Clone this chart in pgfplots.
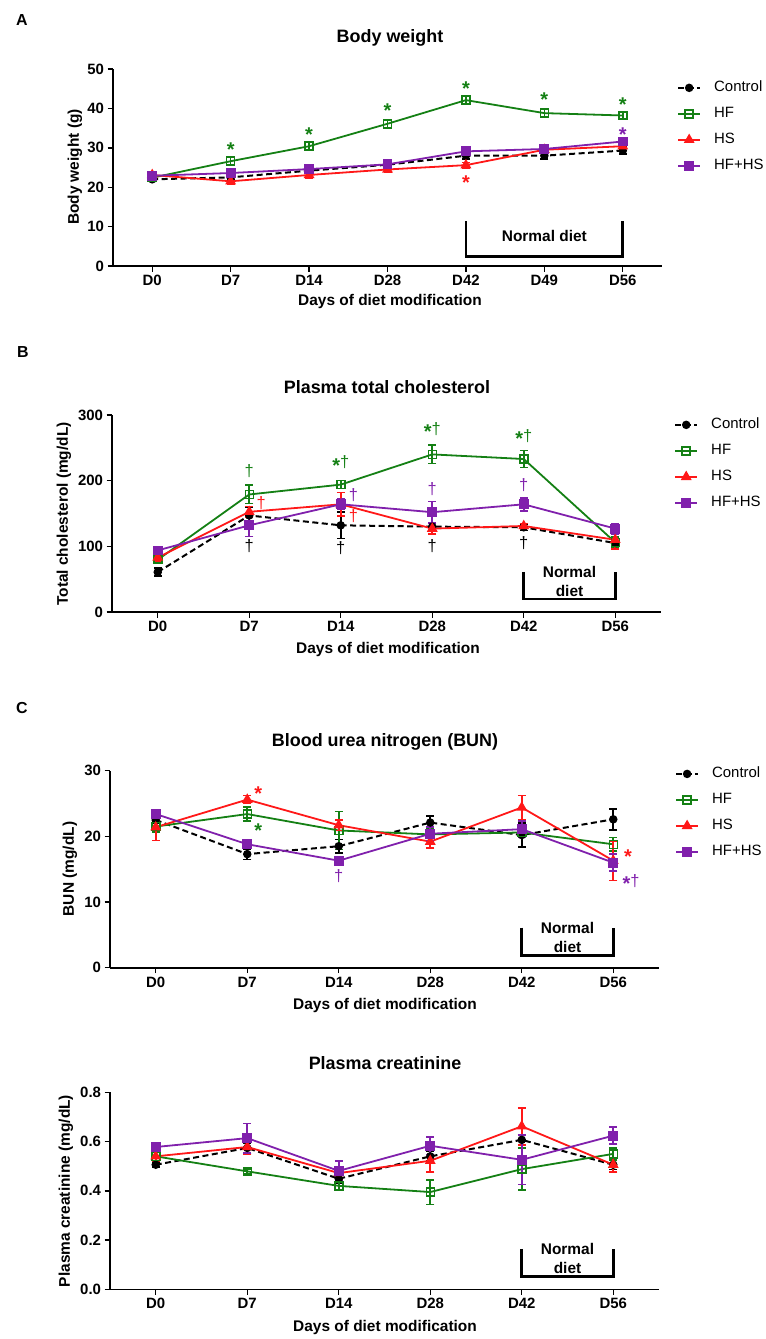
\documentclass[border=0pt]{standalone}
\usepackage{fontspec}
\setmainfont{Liberation Sans}
\usepackage{pgfplots}
\usepackage{pgfplotstable}
\pgfplotsset{compat=1.18}

\definecolor{cgreen}{RGB}{20,128,20}
\definecolor{cred}{RGB}{255,24,24}
\definecolor{cpurple}{RGB}{128,32,172}

% columns: x, mean and error for Control, HF, HS, HF+HS
\pgfplotstableread{
x c ce hf hfe hs hse hh hhe
0 22.0 0.6 22.4 0.5 23.1 0.6 22.9 0.5
1 22.5 0.5 26.6 0.9 21.5 0.7 23.6 0.6
2 24.2 0.5 30.4 1.0 23.1 0.7 24.6 0.6
3 25.7 0.6 36.1 1.0 24.5 0.7 25.8 0.6
4 28.0 0.8 42.1 1.0 25.6 0.7 29.1 0.7
5 28.0 0.8 38.8 1.0 29.5 0.7 29.7 0.7
6 29.3 0.9 38.2 0.8 30.4 0.6 31.6 0.8
}\bw
\pgfplotstableread{
x c ce hf hfe hs hse hh hhe
0 60.8 6 79.6 5 83 5 93.8 5
1 147 13 179 14 152.6 8 132 17
2 132 20 194 6 164 18 164 8
3 130 5 240 14 127 8 152 16
4 129 5 233 13 131 4 164 10
5 105 4 106 8 110 14 127 8
}\chol
\pgfplotstableread{
x c ce hf hfe hs hse hh hhe
0 22.5 0.5 21.5 0.8 21.4 2.0 23.4 0.4
1 17.3 0.8 23.4 1.1 25.6 0.6 18.8 0.4
2 18.5 1.0 20.9 2.9 21.7 0.8 16.3 0.5
3 22.1 1.0 20.3 1.0 19.2 1.0 20.4 1.0
4 20.2 1.8 20.6 0.5 24.4 1.8 21.1 1.2
5 22.6 1.6 18.8 1.0 16.3 3.0 16.0 1.3
}\bun
\pgfplotstableread{
x c ce hf hfe hs hse hh hhe
0 0.506 0.01 0.540 0.02 0.540 0.02 0.578 0.01
1 0.574 0.02 0.479 0.01 0.578 0.03 0.614 0.06
2 0.449 0.02 0.420 0.015 0.472 0.025 0.481 0.04
3 0.540 0.02 0.395 0.05 0.522 0.045 0.583 0.035
4 0.607 0.02 0.488 0.085 0.662 0.075 0.526 0.10
5 0.506 0.02 0.550 0.025 0.506 0.03 0.624 0.035
}\crea

\pgfplotsset{
  panel/.style={
    scale only axis, width=549bp, height=197bp,
    axis lines*=left,
    axis line style={line width=1.6bp},
    every tick/.style={black, line width=1.4bp},
    tick align=outside, major tick length=5.5bp,
    xmin=-0.5, xmax=5.5, ymin=0,
    xtick={0,1,2,3,4,5},
    xticklabels={D0,D7,D14,D28,D42,D56},
    tick label style={font=\fontsize{15}{16}\selectfont\bfseries},
    /pgf/number format/assume math mode=true,
    clip=false,
    legend cell align=left,
    legend style={draw=none, fill=none, anchor=north west, inner sep=0pt,
      font=\fontsize{15}{17}\selectfont, row sep=12.5bp, column sep=13bp,
      nodes={inner sep=0pt, text height=10.5bp, text depth=3bp}},
    legend image code/.code={\draw[mark repeat=2,mark phase=2,#1]
      plot coordinates {(0bp,0bp) (11bp,0bp) (22bp,0bp)};},
  },
  eb/.style={error bars/.cd, y dir=both, y explicit,
    error bar style={solid, line width=1.6bp},
    error mark options={rotate=90, solid, line width=1.6bp, mark size=4bp}},
  ctrl/.style={black, line width=2bp, dash pattern=on 6bp off 3.5bp,
    mark=*, mark size=3.2bp, mark options={solid, fill=black}, eb},
  hf/.style={cgreen, line width=1.8bp, mark=square, mark size=4bp,
    mark options={solid, line width=1.5bp, fill=none}, eb},
  hs/.style={cred, line width=1.8bp, mark=triangle*, mark size=4.5bp,
    mark options={solid, fill=cred}, eb},
  hh/.style={cpurple, line width=1.8bp, mark=square*, mark size=4bp,
    mark options={solid, fill=cpurple}, eb},
  nd/.style={black, line width=2.6bp, mark=none, forget plot},
}
\tikzset{
  ast/.style={font=\fontsize{20}{20}\selectfont\bfseries, inner sep=0pt, anchor=center},
  dag/.style={font=\fontsize{16.5}{17}\selectfont, inner sep=0pt, anchor=base, yshift=-5bp},
  sd/.style={inner sep=0pt, anchor=base, yshift=-5bp},
  ndt/.style={font=\fontsize{15.5}{17}\selectfont\bfseries, inner sep=0pt},
  ttl/.style={font=\fontsize{18}{20}\selectfont\bfseries, inner sep=0pt},
  lab/.style={font=\fontsize{15.5}{17}\selectfont\bfseries, inner sep=0pt},
  pl/.style={font=\fontsize{16}{18}\selectfont\bfseries, inner sep=0pt},
}
% asterisk in a tight box, so that its node is centred on the glyph
\newcommand{\st}{\raisebox{-0.44em}[0.31em][0pt]{*}}
\newcommand{\sd}{{\fontsize{20}{20}\selectfont\bfseries\raisebox{-4.5bp}[9bp][0pt]{*}}{\fontsize{16.5}{17}\selectfont †}}

\begin{document}
\begin{tikzpicture}
\useasboundingbox (0bp,0bp) rectangle (766bp,-1339bp);

% ---------------- A: body weight
\node[pl] at (22bp,-20bp) {A};
\node[ttl] at (390bp,-38bp) {Body weight};
\node[lab] at (390bp,-302bp) {Days of diet modification};
\node[lab, rotate=90] at (75bp,-167bp) {Body weight (g)};
\begin{axis}[panel, at={(113bp,-266bp)}, anchor=south west,
  xmax=6.5, xtick={0,...,6}, xticklabels={D0,D7,D14,D28,D42,D49,D56},
  ymax=50, ytick={0,10,20,30,40,50},
  legend style={at={(1.0273,0.9396)}}]
\addplot[ctrl] table[x=x, y=c, y error=ce] {\bw};
\addplot[hf] table[x=x, y=hf, y error=hfe] {\bw};
\addplot[hs] table[x=x, y=hs, y error=hse] {\bw};
\addplot[hh] table[x=x, y=hh, y error=hhe] {\bw};
\legend{Control,HF,HS,HF+HS}
\addplot[nd] coordinates {(4,11.3) (4,2.4) (6,2.4) (6,11.3)};
\node[ndt] at (axis cs:5,7.6) {Normal diet};
\node[ast, cgreen] at (axis cs:1,30.8) {\st};
\node[ast, cgreen] at (axis cs:2,34.6) {\st};
\node[ast, cgreen] at (axis cs:3,40.7) {\st};
\node[ast, cgreen] at (axis cs:4,46.4) {\st};
\node[ast, cgreen] at (axis cs:5,43.4) {\st};
\node[ast, cgreen] at (axis cs:6,42.1) {\st};
\node[ast, cpurple] at (axis cs:6,34.5) {\st};
\node[ast, cred] at (axis cs:4,22.5) {\st};
\end{axis}

% ---------------- B: total cholesterol
\node[pl] at (23bp,-352bp) {B};
\node[ttl] at (387bp,-387bp) {Plasma total cholesterol};
\node[lab] at (388bp,-649bp) {Days of diet modification};
\node[lab, rotate=90] at (64bp,-514bp) {Total cholesterol (mg/dL)};
\begin{axis}[panel, at={(112bp,-612bp)}, anchor=south west,
  ymax=300, ytick={0,100,200,300},
  legend style={at={(1.0237,0.9853)}}]
\addplot[ctrl] table[x=x, y=c, y error=ce] {\chol};
\addplot[hf] table[x=x, y=hf, y error=hfe] {\chol};
\addplot[hs] table[x=x, y=hs, y error=hse] {\chol};
\addplot[hh] table[x=x, y=hh, y error=hhe] {\chol};
\legend{Control,HF,HS,HF+HS}
\addplot[nd] coordinates {(4,61) (4,20) (5,20) (5,61)};
\node[ndt] at (axis cs:4.5,61) {Normal};
\node[ndt] at (axis cs:4.5,32) {diet};
\node[dag, cgreen] at (axis cs:1,213.7) {†};
\node[dag, cred] at (axis cs:1.13,166) {†};
\node[dag, black] at (axis cs:1,99.5) {†};
\node[sd, cgreen] at (axis cs:2,227) {\sd};
\node[dag, cpurple] at (axis cs:2.14,178) {†};
\node[dag, cred] at (axis cs:2.14,145) {†};
\node[dag, black] at (axis cs:2,96) {†};
\node[sd, cgreen] at (axis cs:3,278) {\sd};
\node[dag, cpurple] at (axis cs:3,186) {†};
\node[dag, black] at (axis cs:3,99) {†};
\node[sd, cgreen] at (axis cs:4,268) {\sd};
\node[dag, cpurple] at (axis cs:4,192) {†};
\node[dag, black] at (axis cs:4,105) {†};
\end{axis}

% ---------------- C: BUN
\node[pl] at (22bp,-708bp) {C};
\node[ttl] at (385bp,-742bp) {Blood urea nitrogen (BUN)};
\node[lab] at (385bp,-1005bp) {Days of diet modification};
\node[lab, rotate=90] at (70bp,-869bp) {BUN (mg/dL)};
\begin{axis}[panel, at={(110bp,-967.7bp)}, anchor=south west,
  ymax=30, ytick={0,10,20,30},
  legend style={at={(1.029,1.019)}}]
\addplot[ctrl] table[x=x, y=c, y error=ce] {\bun};
\addplot[hf] table[x=x, y=hf, y error=hfe] {\bun};
\addplot[hs] table[x=x, y=hs, y error=hse] {\bun};
\addplot[hh] table[x=x, y=hh, y error=hhe] {\bun};
\legend{Control,HF,HS,HF+HS}
\addplot[nd] coordinates {(4,6.1) (4,1.9) (5,1.9) (5,6.1)};
\node[ndt] at (axis cs:4.5,6.1) {Normal};
\node[ndt] at (axis cs:4.5,3.2) {diet};
\node[ast, cred] at (axis cs:1.12,27.2) {\st};
\node[ast, cgreen] at (axis cs:1.12,21.7) {\st};
\node[dag, cpurple] at (axis cs:2,13.9) {†};
\node[ast, cred] at (axis cs:5.16,17.6) {\st};
\node[sd, cpurple, anchor=base west] at (axis cs:5.1,13.2) {\sd};
\end{axis}

% ---------------- D: creatinine
\node[ttl] at (385bp,-1063bp) {Plasma creatinine};
\node[lab] at (385bp,-1327bp) {Days of diet modification};
\node[lab, rotate=90] at (66bp,-1191bp) {Plasma creatinine (mg/dL)};
\begin{axis}[panel, at={(110bp,-1289.3bp)}, anchor=south west,
  ymax=0.8, ytick={0,0.2,0.4,0.6,0.8},
  yticklabel style={/pgf/number format/.cd, fixed, fixed zerofill, precision=1}]
\addplot[ctrl] table[x=x, y=c, y error=ce] {\crea};
\addplot[hf] table[x=x, y=hf, y error=hfe] {\crea};
\addplot[hs] table[x=x, y=hs, y error=hse] {\crea};
\addplot[hh] table[x=x, y=hh, y error=hhe] {\crea};
\addplot[nd] coordinates {(4,0.164) (4,0.052) (5,0.052) (5,0.164)};
\node[ndt] at (axis cs:4.5,0.164) {Normal};
\node[ndt] at (axis cs:4.5,0.085) {diet};
\end{axis}
\end{tikzpicture}
\end{document}
